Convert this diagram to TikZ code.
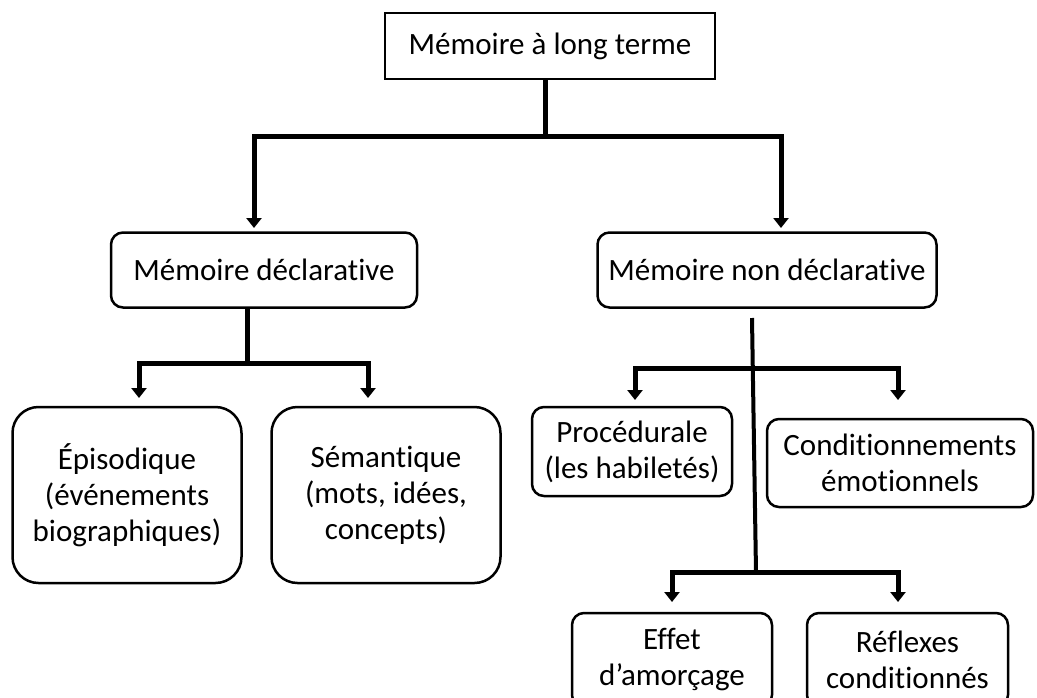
\documentclass[tikz,border=0pt]{standalone}
\usepackage{fontspec}
\setmainfont[Ligatures=NoCommon]{Carlito}
\usetikzlibrary{arrows.meta}

\begin{document}
\begin{tikzpicture}[x=1pt,y=-1pt,
   every node/.style={draw,line width=2.5pt,align=center,inner sep=0pt,
        font=\fontsize{31}{36}\selectfont},
   topbox/.style={minimum width=330pt,minimum height=66pt},
   roundbox/.style={rounded corners=12pt},
   bigbox/.style={rounded corners=26pt,minimum width=229pt,minimum height=176pt},
   link/.style={line width=5pt},
   arrowlink/.style={line width=5pt,-{Triangle[width=15pt,length=10pt]}}]

\useasboundingbox (0,0) rectangle (1037,697);

% boxes
\node[topbox] (ltm) at (550,46) {Mémoire à long terme};
\node[roundbox,minimum width=306pt,minimum height=75pt] (decl) at (264,270) {Mémoire déclarative};
\node[roundbox,minimum width=339pt,minimum height=75pt] (nondecl) at (767,270) {Mémoire non déclarative};
\node[bigbox] (epi) at (127,495) {Épisodique\\(événements\\biographiques)};
\node[bigbox] (sem) at (386,495) {Sémantique\\(mots, idées,\\concepts)};
\node[roundbox,minimum width=200pt,minimum height=89pt] (proc) at (632,451.5) {Procédurale\\(les habiletés)};
\node[roundbox,minimum width=266pt,minimum height=88pt] (cond) at (900,463) {Conditionnements\\émotionnels};
\node[roundbox,minimum width=200pt,minimum height=94pt] (eff) at (672,660) {Effet\\d’amorçage};
\node[roundbox,minimum width=201pt,minimum height=94pt] (refl) at (907.5,660) {Réflexes\\conditionnés};

% junctions and arrow ends
\coordinate (h1) at (545,136);
\coordinate (declin) at (254,228);
\coordinate (nondeclin) at (781,228);
\coordinate (h2) at (247,363);
\coordinate (epiin) at (139,398);
\coordinate (semin) at (368,398);
\coordinate (trunk) at (752,318);
\coordinate (h3) at (753,368);
\coordinate (h4) at (756,572);
\coordinate (procin) at (635,400);
\coordinate (condin) at (898,400);
\coordinate (effin) at (672,602);
\coordinate (reflin) at (898,602);

% connectors
\draw[link] (h1 |- ltm.south) -- (h1);
\draw[arrowlink] (h1) -| (declin);
\draw[arrowlink] (h1) -| (nondeclin);

\draw[link] (h2 |- decl.south) -- (h2);
\draw[arrowlink] (h2) -| (epiin);
\draw[arrowlink] (h2) -| (semin);

\draw[link,line width=4pt] (trunk) -- (h4);
\draw[arrowlink] (h3) -| (procin);
\draw[arrowlink] (h3) -| (condin);
\draw[arrowlink] (h4) -| (effin);
\draw[arrowlink] (h4) -| (reflin);

\end{tikzpicture}
\end{document}
